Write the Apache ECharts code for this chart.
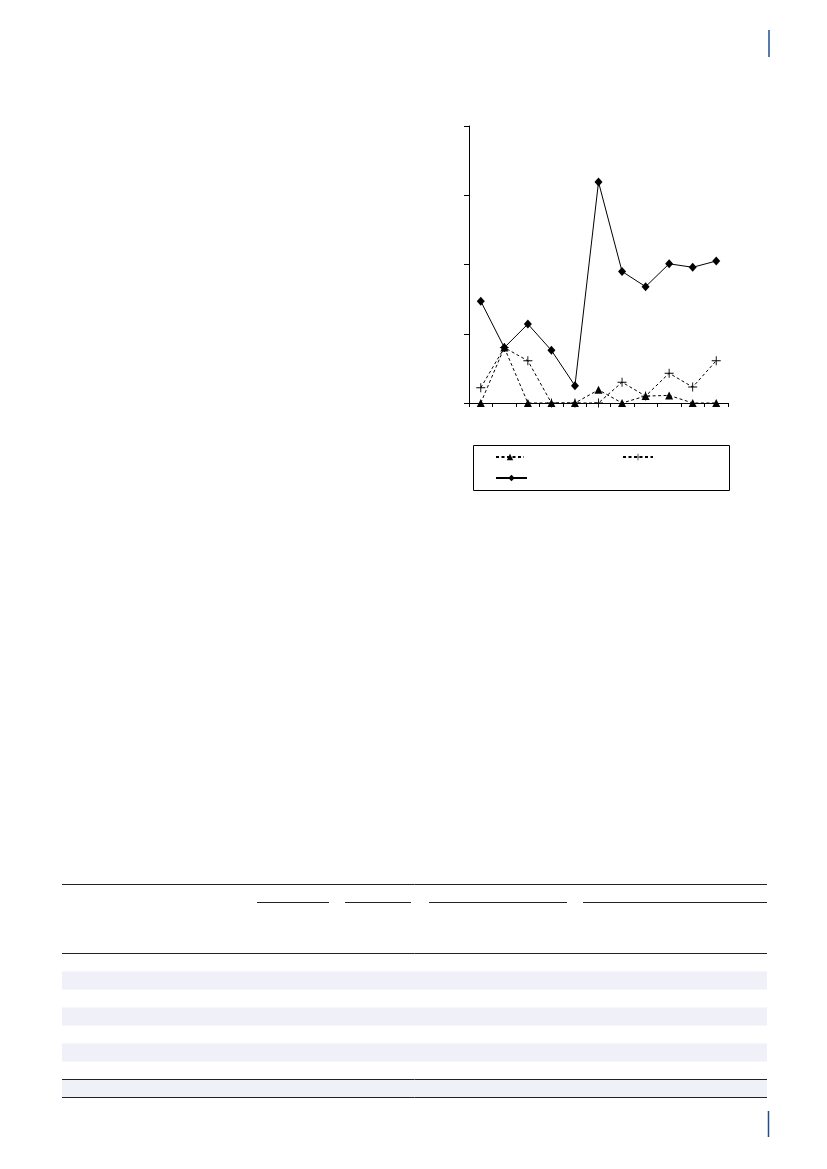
<!DOCTYPE html>
<html>
<head>
<meta charset="utf-8">
<script src="https://cdn.jsdelivr.net/npm/echarts@6/dist/echarts.min.js"></script>
<style>
html,body{margin:0;padding:0;background:#fff;}
#c{width:827px;height:1169px;}
</style>
</head>
<body>
<div id="c"></div>
<script>
var categories = ['1','2','3','4','5','6','7','8','9','10','11'];
var triangleValues = [0, 0.80, 0, 0, 0, 0.19, 0, 0.10, 0.11, 0, 0];
var plusValues = [0.22, 0.80, 0.61, 0, 0, 0, 0.30, 0.10, 0.43, 0.23, 0.61];
var diamondValues = [1.47, 0.80, 1.14, 0.76, 0.25, 3.19, 1.90, 1.68, 2.01, 1.96, 2.05];
var yTicks = [0, 1, 2, 3, 4];

var plusPath = 'path://M4.5,0H5.5V4.5H10V5.5H5.5V10H4.5V5.5H0V4.5H4.5Z';

var chart = echarts.init(document.getElementById('c'), null, {renderer: 'canvas'});

function hline(x1, x2, y, w) {
  return {type: 'line', silent: true, shape: {x1: x1, y1: y, x2: x2, y2: y},
    style: {stroke: '#222', lineWidth: w || 1}};
}
function band(y1, y2) {
  return {type: 'rect', silent: true, z: -1, shape: {x: 62, y: y1, width: 705, height: y2 - y1},
    style: {fill: '#eff0f8'}};
}

var graphics = [
  {type: 'rect', silent: true, shape: {x: 473.5, y: 445.5, width: 256, height: 45},
    style: {fill: 'none', stroke: '#000', lineWidth: 1}},
  {type: 'line', silent: true, shape: {x1: 769, y1: 30, x2: 769, y2: 57},
    style: {stroke: '#1f4e8c', lineWidth: 1.5}},
  {type: 'line', silent: true, shape: {x1: 768.5, y1: 1111, x2: 768.5, y2: 1137},
    style: {stroke: '#1f4e8c', lineWidth: 1.5}},
  band(971.5, 989.5),
  band(1007.5, 1025.5),
  band(1043.5, 1061.5),
  band(1079.5, 1097),
  hline(62, 767, 884.5),
  hline(257, 329, 902.5),
  hline(345, 411, 902.5),
  hline(429, 567, 902.5),
  hline(583, 767, 902.5),
  hline(62, 767, 953.5),
  hline(62, 767, 1079.5),
  hline(62, 767, 1097.5)
];

function legendAt(name, left, top, w) {
  return {
    data: [name], left: left, top: top, padding: 0, orient: 'horizontal',
    itemWidth: w, itemHeight: 8, itemGap: 0, selectedMode: false,
    formatter: function () { return ''; },
    textStyle: {fontSize: 1, color: 'rgba(0,0,0,0)'}
  };
}

chart.setOption({
  animation: false,
  backgroundColor: '#fff',
  grid: {left: 469, top: 126, width: 259, height: 277, containLabel: false},
  legend: [
    legendAt('A', 495, 453, 28),
    legendAt('B', 622, 453, 30),
    legendAt('C', 495, 474, 31)
  ],
  xAxis: {
    type: 'category', data: categories, boundaryGap: true,
    axisLine: {lineStyle: {color: '#000', width: 1}},
    axisTick: {show: true, length: 4, lineStyle: {color: '#000', width: 1}},
    axisLabel: {show: false},
    splitLine: {show: false}
  },
  yAxis: {
    type: 'value', min: yTicks[0], max: yTicks[yTicks.length - 1], interval: 1,
    axisLine: {show: true, lineStyle: {color: '#000', width: 1}},
    axisTick: {show: true, length: 5, lineStyle: {color: '#000', width: 1}},
    axisLabel: {show: false},
    splitLine: {show: false}
  },
  series: [
    {
      name: 'A', type: 'line', data: triangleValues, symbol: 'triangle', symbolSize: 8,
      lineStyle: {color: '#000', width: 1, type: [3, 2.5]},
      itemStyle: {color: '#000'}, emphasis: {disabled: true}, z: 2
    },
    {
      name: 'B', type: 'line', data: plusValues, symbol: plusPath, symbolSize: 9,
      lineStyle: {color: '#000', width: 1, type: [3, 2.5]},
      itemStyle: {color: '#000'}, emphasis: {disabled: true}, z: 3
    },
    {
      name: 'C', type: 'line', data: diamondValues, symbol: 'diamond', symbolSize: [8, 9],
      lineStyle: {color: '#000', width: 1, type: 'solid'},
      itemStyle: {color: '#000'}, emphasis: {disabled: true}, z: 4
    }
  ],
  graphic: graphics
});
</script>
</body>
</html>
